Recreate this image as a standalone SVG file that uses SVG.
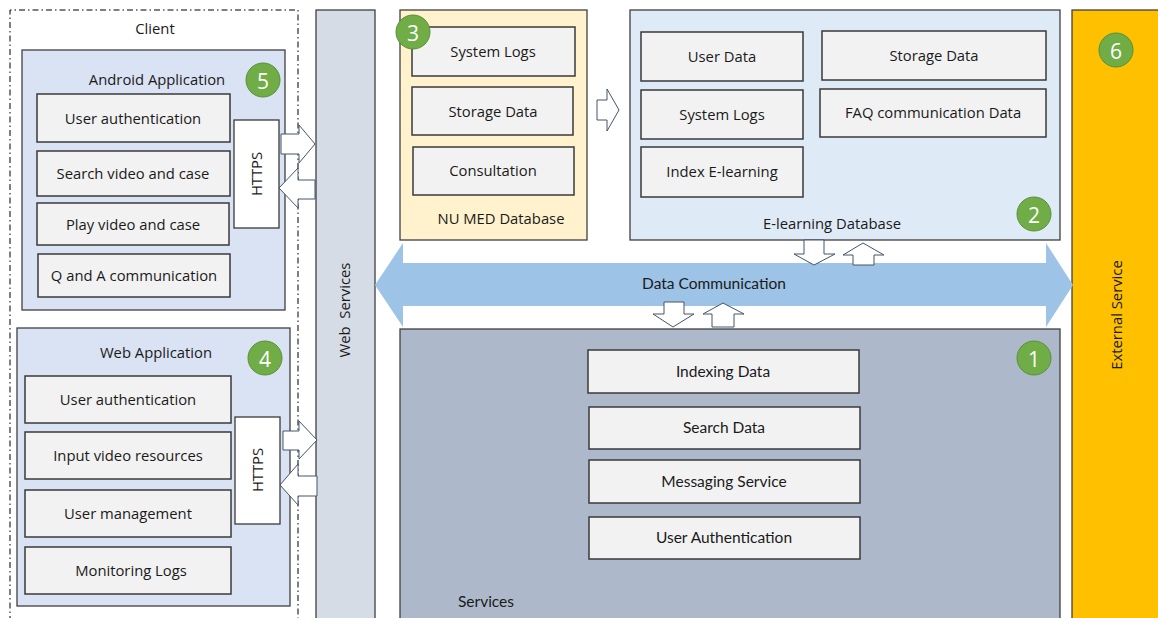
<svg xmlns="http://www.w3.org/2000/svg" width="1158" height="618" viewBox="0 0 1158 618">
  <style>
    .t { font-family: "Open Sans", "Noto Sans", sans-serif; font-size: 14.8px; fill: #1a1a1a; text-anchor: middle; dominant-baseline: central; }
    .c { font-family: Lato, "Liberation Sans", sans-serif; font-size: 15.5px; fill: #1a1a1a; text-anchor: middle; dominant-baseline: central; }
    .item { fill: #f2f2f2; stroke: #3a3a3a; stroke-width: 1.5; }
    .panel { stroke: #404040; stroke-width: 1.3; }
    .app { fill: #dae3f3; }
    .hollow { fill: #ffffff; stroke: #44546a; stroke-width: 1; stroke-linejoin: miter; }
    .badge circle { fill: #70ad47; stroke: #5a8f38; stroke-width: 1; }
    .badge text { font-family: "Open Sans", "Noto Sans", sans-serif; font-size: 21px; fill: #ffffff; text-anchor: middle; dominant-baseline: central; }
  </style>

  <rect width="1158" height="618" fill="#ffffff"/>

  <!-- Client boundary (dash-dot) -->
  <g id="client">
    <path d="M10,622 V10 H298 V622" fill="none" stroke="#000000" stroke-width="1" stroke-dasharray="6 3 1.5 3"/>
    <text class="t" x="155" y="28">Client</text>
  </g>

  <!-- Android application -->
  <g id="android-app">
    <rect class="panel app" x="22" y="50" width="263" height="260"/>
    <text class="t" x="157" y="79">Android Application</text>
    <rect class="item" x="37" y="94" width="193" height="48"/>
    <text class="t" x="133" y="118">User authentication</text>
    <rect class="item" x="37" y="151" width="193" height="45"/>
    <text class="t" x="133" y="173">Search video and case</text>
    <rect class="item" x="37" y="203" width="192" height="42"/>
    <text class="t" x="133" y="224">Play video and case</text>
    <rect class="item" x="38" y="254" width="192" height="43"/>
    <text class="t" x="134" y="275">Q and A communication</text>
    <rect x="234" y="120" width="45" height="108" fill="#ffffff" stroke="#3a3a3a" stroke-width="1.3"/>
    <text class="t" transform="translate(256,174) rotate(-90)">HTTPS</text>
    <g class="badge"><circle cx="263" cy="80" r="17"/><text x="263" y="81">5</text></g>
  </g>

  <!-- Web application -->
  <g id="web-app">
    <rect class="panel app" x="17" y="328" width="273" height="278"/>
    <text class="t" x="156" y="352">Web Application</text>
    <rect class="item" x="25" y="376" width="206" height="47"/>
    <text class="t" x="128" y="399">User authentication</text>
    <rect class="item" x="25" y="432" width="206" height="47"/>
    <text class="t" x="128" y="455">Input video resources</text>
    <rect class="item" x="25" y="490" width="206" height="47"/>
    <text class="t" x="128" y="513">User management</text>
    <rect class="item" x="25" y="547" width="206" height="47"/>
    <text class="t" x="131" y="570">Monitoring Logs</text>
    <rect x="235" y="417" width="45" height="107" fill="#ffffff" stroke="#3a3a3a" stroke-width="1.3"/>
    <text class="t" transform="translate(257,470) rotate(-90)">HTTPS</text>
    <g class="badge"><circle cx="265" cy="358" r="17"/><text x="265" y="359">4</text></g>
  </g>

  <!-- Web services column -->
  <g id="web-services">
    <rect class="panel" x="316" y="10" width="59" height="612" fill="#d6dce5"/>
    <text class="t" transform="translate(344,310) rotate(-90)" xml:space="preserve">Web  Services</text>
  </g>

  <!-- NU MED database -->
  <g id="numed-db">
    <rect class="panel" x="400" y="10" width="187" height="230" fill="#fff2cc"/>
    <rect class="item" x="412" y="27" width="163" height="49"/>
    <text class="t" x="493" y="51">System Logs</text>
    <rect class="item" x="412" y="87" width="161" height="48"/>
    <text class="t" x="493" y="111">Storage Data</text>
    <rect class="item" x="413" y="147" width="161" height="48"/>
    <text class="t" x="493" y="170">Consultation</text>
    <text class="t" x="501" y="218">NU MED Database</text>
    <g class="badge"><circle cx="413" cy="32" r="17"/><text x="413" y="33">3</text></g>
  </g>

  <!-- E-learning database -->
  <g id="elearning-db">
    <rect class="panel" x="630" y="10" width="430" height="230" fill="#deebf7"/>
    <rect class="item" x="641" y="32" width="162" height="49"/>
    <text class="t" x="722" y="56">User Data</text>
    <rect class="item" x="822" y="31" width="224" height="49"/>
    <text class="t" x="934" y="55">Storage Data</text>
    <rect class="item" x="641" y="90" width="162" height="49"/>
    <text class="t" x="722" y="114">System Logs</text>
    <rect class="item" x="820" y="89" width="226" height="48"/>
    <text class="t" x="933" y="112">FAQ communication Data</text>
    <rect class="item" x="641" y="147" width="162" height="50"/>
    <text class="t" x="722" y="171">Index E-learning</text>
    <text class="t" x="832" y="223">E-learning Database</text>
    <g class="badge"><circle cx="1034" cy="214" r="17"/><text x="1034" y="215">2</text></g>
  </g>

  <!-- External service column -->
  <g id="external-service">
    <rect class="panel" x="1072" y="10" width="90" height="612" fill="#ffc000"/>
    <text class="t" transform="translate(1116,315) rotate(-90)">External Service</text>
    <g class="badge"><circle cx="1116" cy="50" r="17"/><text x="1116" y="51">6</text></g>
  </g>

  <!-- Services -->
  <g id="services">
    <rect class="panel" x="400" y="329" width="660" height="293" fill="#adb9ca"/>
    <rect class="item" x="588" y="350" width="271" height="43"/>
    <text class="c" x="723" y="371">Indexing Data</text>
    <rect class="item" x="589" y="407" width="271" height="42"/>
    <text class="c" x="724" y="427">Search Data</text>
    <rect class="item" x="589" y="460" width="271" height="43"/>
    <text class="c" x="724" y="481">Messaging Service</text>
    <rect class="item" x="589" y="517" width="271" height="42"/>
    <text class="c" x="724" y="537">User Authentication</text>
    <text class="c" x="486" y="601">Services</text>
    <g class="badge"><circle cx="1034" cy="358" r="17"/><text x="1034" y="359">1</text></g>
  </g>

  <!-- Connectors -->
  <g id="connectors">
    <!-- Android HTTPS request / response -->
    <polygon class="hollow" points="281,134 299,134 299,125 315,144 299,163 299,154 281,154"/>
    <polygon class="hollow" points="315,180 298,180 298,168 279,188 298,208 298,199 315,199"/>
    <!-- Web application HTTPS request / response -->
    <polygon class="hollow" points="283,431 299,431 299,421 317,440 299,459 299,450 283,450"/>
    <polygon class="hollow" points="317,476 298,476 298,464 280,485 298,505 298,496 317,496"/>
    <!-- NU MED -> E-learning -->
    <polygon class="hollow" points="597,100 607,100 607,89 619,110 607,131 607,120 597,120"/>
    <!-- Data communication bus -->
    <polygon points="375,285 403,243 403,263 1046,263 1046,243 1073,285 1046,327 1046,306 403,306 403,327" fill="#9dc3e6"/>
    <text class="c" x="714" y="283" font-size="16.5">Data Communication</text>
    <!-- E-learning <-> bus -->
    <polygon class="hollow" points="804,240 824,240 824,254 835,254 814,265 794,254 804,254"/>
    <polygon class="hollow" points="853,265 874,265 874,255 884,255 863,243 843,255 853,255"/>
    <!-- Bus <-> services -->
    <polygon class="hollow" points="664,302 684,302 684,314 694,314 673,327 653,314 664,314"/>
    <polygon class="hollow" points="712,327 734,327 734,314 744,314 723,303 703,314 712,314"/>
  </g>
</svg>
